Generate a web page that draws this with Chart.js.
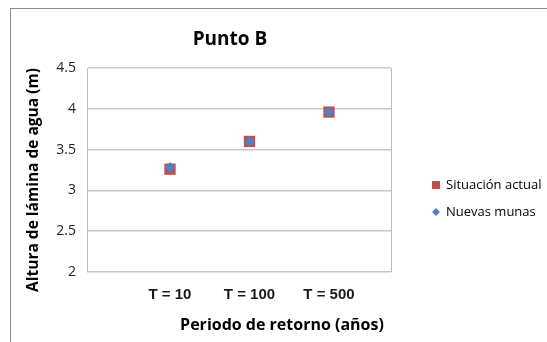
<!DOCTYPE html>
<html>
<head>
<meta charset="utf-8">
<script src="https://cdn.jsdelivr.net/npm/chart.js@4/dist/chart.umd.min.js"></script>
<style>
  html, body { margin: 0; padding: 0; background: #fff; }
  #wrap { position: relative; width: 547px; height: 342px; }
  #frame {
    position: absolute; left: 10px; top: 8px; right: 0; bottom: 0;
    border-top: 1px solid #8c8c8c; border-left: 1px solid #8c8c8c;
    pointer-events: none;
  }
</style>
</head>
<body>
<div id="wrap">
  <canvas id="chart" width="547" height="342"></canvas>
  <div id="frame"></div>
</div>
<script>
const periods = ["T = 10", "T = 100", "T = 500"];
const situacionActual = [3.26, 3.6, 3.96];
const nuevasMunas = [3.28, 3.6, 3.96];
const yTicks = [2, 2.5, 3, 3.5, 4, 4.5];

const RED = "#c0504d";
const BLUE = "#4f81bd";

// titles, legend and the right edge of the plot box
const decorations = {
  id: "decorations",
  afterDraw(chart) {
    const ctx = chart.ctx;
    const area = chart.chartArea;
    ctx.save();

    ctx.strokeStyle = "#bdbdbd";
    ctx.lineWidth = 1;
    ctx.beginPath();
    ctx.moveTo(area.right + 0.5, area.top);
    ctx.lineTo(area.right + 0.5, area.bottom);
    ctx.stroke();

    ctx.fillStyle = "#000";
    ctx.textAlign = "center";
    ctx.textBaseline = "middle";
    ctx.font = "bold 19px 'Open Sans'";
    ctx.fillText("Punto B", 230, 40);

    ctx.font = "bold 16px 'Open Sans'";
    ctx.fillText("Periodo de retorno (años)", 282, 325);

    ctx.save();
    ctx.translate(34, 180);
    ctx.rotate(-Math.PI / 2);
    ctx.font = "bold 15.5px 'Open Sans'";
    ctx.fillText("Altura de lámina de agua (m)", 0, 0);
    ctx.restore();

    // legend
    ctx.textAlign = "left";
    ctx.font = "13px 'Open Sans'";
    ctx.fillStyle = RED;
    ctx.fillRect(432, 181, 8, 8);
    ctx.fillStyle = BLUE;
    ctx.beginPath();
    ctx.moveTo(436, 208);
    ctx.lineTo(440, 212);
    ctx.lineTo(436, 216);
    ctx.lineTo(432, 212);
    ctx.closePath();
    ctx.fill();
    ctx.fillStyle = "#000";
    ctx.fillText("Situación actual", 446, 185);
    ctx.fillText("Nuevas munas", 446, 212);

    ctx.restore();
  },
};

new Chart(document.getElementById("chart"), {
  type: "scatter",
  data: {
    datasets: [
      {
        label: "Situación actual",
        data: situacionActual.map((v, i) => ({ x: i + 1, y: v })),
        pointStyle: "rect",
        pointRadius: 8,
        backgroundColor: RED,
        borderColor: RED,
        borderWidth: 0,
        order: 2,
      },
      {
        label: "Nuevas munas",
        data: nuevasMunas.map((v, i) => ({ x: i + 1, y: v })),
        pointStyle: "rectRot",
        pointRadius: 5.5,
        backgroundColor: BLUE,
        borderColor: BLUE,
        borderWidth: 0,
        order: 1,
      },
    ],
  },
  options: {
    responsive: false,
    animation: false,
    layout: { padding: { left: 0, top: 68, right: 156, bottom: 0 } },
    plugins: { legend: { display: false }, title: { display: false }, tooltip: { enabled: false } },
    scales: {
      x: {
        type: "linear",
        min: -0.044,
        max: 3.78,
        afterBuildTicks: (scale) => {
          scale.ticks = [1, 2, 3].map((v) => ({ value: v }));
        },
        afterFit: (scale) => { scale.height = 70; },
        grid: { display: false },
        border: { display: false },
        ticks: {
          padding: 6,
          color: "#1a1a1a",
          font: { family: "'Liberation Sans'", size: 15, weight: "bold" },
          callback: (v) => periods[v - 1],
        },
      },
      y: {
        min: 2,
        max: 4.5,
        afterBuildTicks: (scale) => {
          scale.ticks = yTicks.map((v) => ({ value: v }));
        },
        afterFit: (scale) => { scale.width = 87; },
        grid: { color: "#c8c8c8", lineWidth: 1.5, drawTicks: false },
        border: { display: true, color: "#bdbdbd", width: 1 },
        ticks: {
          padding: 11,
          color: "#222",
          font: { family: "'Open Sans'", size: 14 },
          callback: (v) => String(v),
        },
      },
    },
  },
  plugins: [decorations],
});
</script>
</body>
</html>
